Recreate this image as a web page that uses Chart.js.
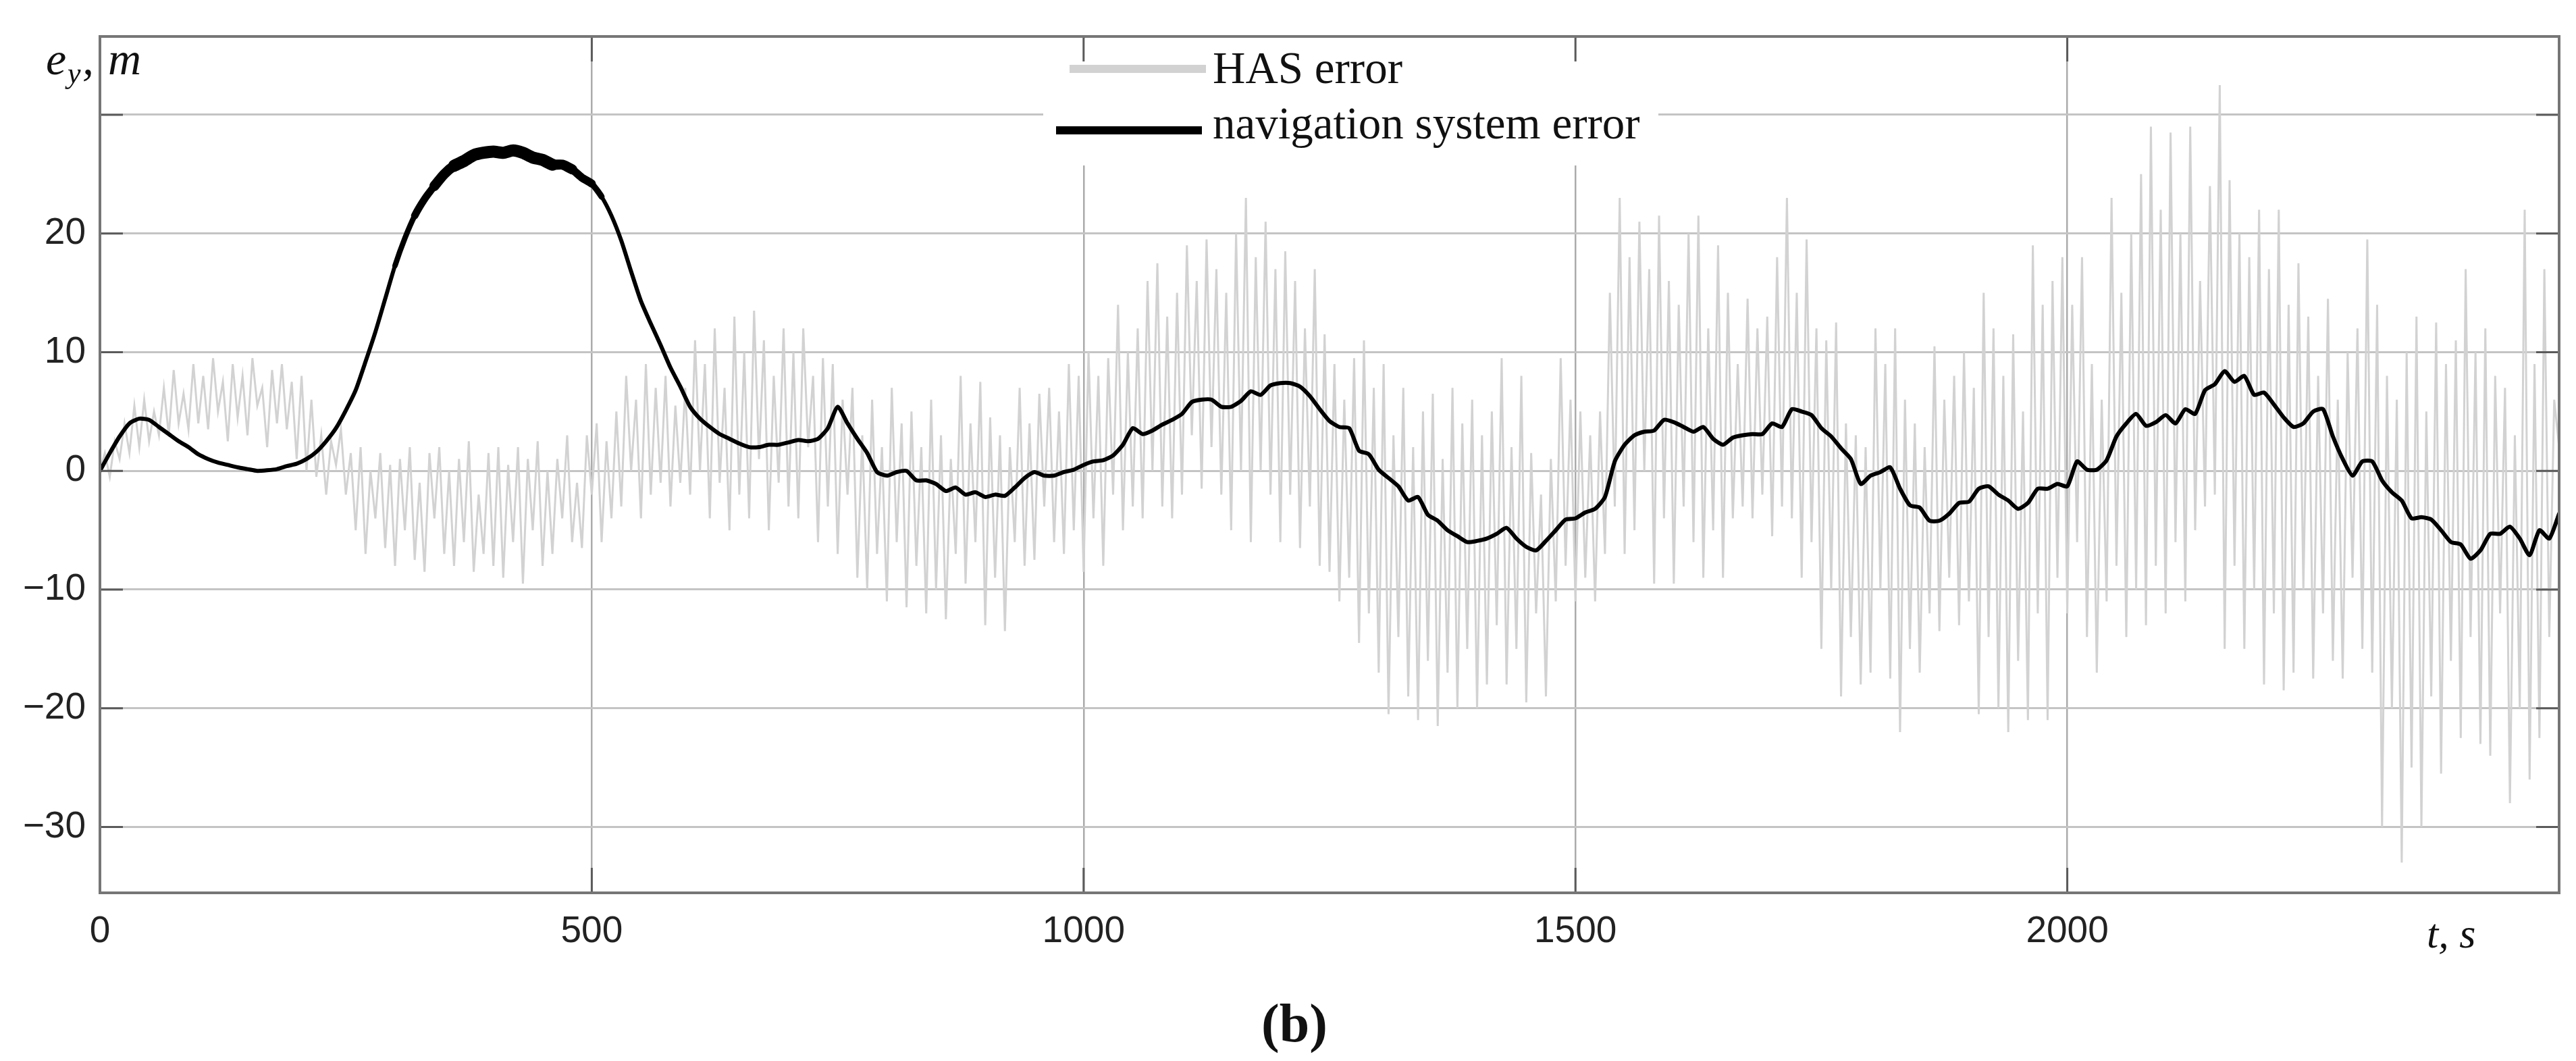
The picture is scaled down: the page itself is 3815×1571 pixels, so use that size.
<!DOCTYPE html>
<html>
<head>
<meta charset="utf-8">
<script src="https://cdn.jsdelivr.net/npm/chart.js@4/dist/chart.umd.min.js"></script>
<style>
  html, body { margin: 0; padding: 0; background: #fff; }
  canvas { display: block; }
</style>
</head>
<body>
<canvas id="myChart" width="3815" height="1571"></canvas>
<script>
// sampling of the two records, seconds
var hasStep = 5
var navStep = 10

// HAS error, m (every 5 s from t = 0)
var hasError = [
	0, 1.5, -0.5, 2.5, 1, 4, 1.5, 5.5, 2, 6, 2.5, 5, 3, 7, 3, 8.5, 4, 6.5, 3.5, 9,
	4, 8, 3.5, 9.5, 5, 7.5, 2.5, 9, 4.5, 8, 3, 9.5, 5.5, 7, 2, 8.5, 4, 9, 3.5, 7.5,
	1, 8, 0, 6, -0.5, 3, -2, 2.5, 0.5, 3.5, -2, 1.5, -5, 2, -7, 0, -4, 1.5, -6.5, 0.5,
	-8, 1, -5, 2, -7.5, -1, -8.5, 1.5, -4, 2, -7, 0, -8, 1, -6, 2.5, -8.5, -2, -7, 1.5,
	-8, 2, -9, 0.5, -6, 2, -9.5, 1, -5, 2.5, -8, 0, -7, 1, -4, 3, -6, -1, -6.5, 3,
	-2, 4, -6, 2.5, -4, 5, -3, 8, 0, 6, -4, 9, -2, 7, -1, 8, -3, 5.5, -1, 7,
	-2, 11, 0, 9, -4, 12, -1, 7, -5, 13, -2, 10, -4, 13.5, 1, 11, -5, 8, -1, 12,
	-3, 10, -4, 12, 2, 8, -6, 9.5, -3, 9, -7, 6, -2, 7, -9, 3, -10, 6, -7, 2,
	-11, 7, -6, 4, -11.5, 5, -8, 2, -12, 6, -10, 3, -12.5, 1, -7, 8, -9.5, 4, -6, 7.5,
	-13, 4.5, -9, 3, -13.5, 2, -6, 7, -8, 4, -7.5, 6.5, -3, 7, -6, 5, -7, 9, -5, 8,
	-8.5, 10, -4, 8, -8, 9.5, -2, 14, -5, 10, -3, 12, -4, 16, 0, 17.5, -3, 13, -4, 15,
	-2, 19, 3, 16, -1.5, 19.5, 2, 17, -2, 15, -5, 20, 0, 23, -6, 18, 0, 21, -2, 17,
	-6, 18.5, -2, 16, -6.5, 12, -3, 17, -8, 11.5, -8.5, 9, -11, 6, -9, 9.5, -14.5, 11, -12, 7,
	-17, 9, -20.5, 3, -14, 7, -19, 2, -21, 5, -16, 6.5, -21.5, 1, -17, 7, -20, 4, -15, 6,
	-20, 3, -18, 5, -13, 9.5, -18, 2, -15, 8, -19.5, 1.5, -12, -2, -19, 1, -11, 9.5, -8, 6,
	-11, 5, -9, 3, -11, 5, -7, 15, -3, 23, -7, 18, -5, 21, 0, 17, -9.5, 21.5, -4, 16,
	-9.5, 14, -3, 20, -6, 21.5, -9, 12, -5, 19, -9, 15, -4, 9, -3, 14.5, -4, 12, -2, 13,
	-5.5, 18, -3, 23, -4, 15, -9, 19.5, -6, 12, -15, 11, -10, 12.5, -19, 4, -14, 3, -18, 2,
	-17, 12, -10, 9, -17.5, 12, -22, 6, -15, 4, -17, 2, -12, 10.5, -13.5, 6, -9, 8, -13, 10,
	-11, 7, -20.5, 15, -14, 12, -20, 8, -22, 11.5, -16, 5, -21, 19, -12, 14, -21, 16, -9, 18,
	-12, 14, -6, 18, -14, 9, -17, 6, -11, 23, -8, 15, -14, 20, -10, 25, -13, 29, -8, 22,
	-12, 28.5, -6, 20, -11, 29, -5, 16, -3, 24, -2, 32.5, -15, 24.5, -8, 20, -15, 18, -10, 22,
	-18, 17, -12, 22, -18.5, 14, -17, 17.5, -10, 13, -17.5, 8, -12, 14.5, -16, 6, -17.5, 10, -9, 12,
	-15, 19.5, -17, 14, -30, 8, -20, 6, -33, 10, -25, 13, -30, 5, -19, 12.5, -25.5, 9, -16, 11,
	-22.5, 17, -14, 10, -23, 12, -24, 8, -12, 7, -28, 3, -20, 22, -26, 9, -22.5, 17, -14, 6,
	2
]

// navigation system error, m (every 10 s from t = 0)
var navError = [
	0, 1.5, 2.9, 4.0, 4.4, 4.3, 3.7, 3.1, 2.5, 2.0,
	1.4, 1.0, 0.7, 0.5, 0.3, 0.15, 0, 0.05, 0.15, 0.4,
	0.6, 1.0, 1.6, 2.5, 3.6, 5.1, 6.8, 9.2, 11.7, 14.5,
	17.3, 19.6, 21.5, 22.9, 24.0, 25.0, 25.7, 26.1, 26.6, 26.8,
	26.9, 26.8, 27.0, 26.8, 26.4, 26.2, 25.8, 25.8, 25.4, 24.7,
	24.2, 23.1, 21.5, 19.4, 16.8, 14.3, 12.4, 10.6, 8.7, 7.1,
	5.4, 4.4, 3.7, 3.1, 2.7, 2.3, 2.0, 2.0, 2.2, 2.2,
	2.4, 2.6, 2.5, 2.7, 3.6, 5.4, 4.0, 2.7, 1.5, -0.1,
	-0.4, -0.1, 0, -0.8, -0.8, -1.1, -1.7, -1.4, -2.0, -1.8,
	-2.2, -2.0, -2.1, -1.4, -0.6, -0.1, -0.4, -0.4, -0.1, 0.1,
	0.5, 0.8, 0.9, 1.3, 2.2, 3.6, 3.1, 3.4, 3.9, 4.3,
	4.8, 5.8, 6.0, 6.0, 5.4, 5.4, 5.9, 6.7, 6.4, 7.2,
	7.4, 7.4, 7.1, 6.3, 5.2, 4.2, 3.7, 3.6, 1.7, 1.4,
	0.1, -0.6, -1.3, -2.5, -2.2, -3.7, -4.2, -5.0, -5.5, -6.0,
	-5.9, -5.7, -5.3, -4.8, -5.7, -6.4, -6.7, -5.9, -5.0, -4.1,
	-4.0, -3.5, -3.2, -2.2, 0.8, 2.2, 3.0, 3.3, 3.4, 4.3,
	4.1, 3.7, 3.3, 3.7, 2.7, 2.2, 2.8, 3.0, 3.1, 3.1,
	4.0, 3.7, 5.2, 5.0, 4.7, 3.6, 2.9, 1.9, 1.0, -1.1,
	-0.4, -0.1, 0.3, -1.5, -2.9, -3.1, -4.2, -4.2, -3.6, -2.7,
	-2.6, -1.5, -1.3, -2.0, -2.5, -3.2, -2.7, -1.5, -1.5, -1.1,
	-1.3, 0.8, 0.1, 0.1, 0.9, 2.9, 4.0, 4.8, 3.8, 4.1,
	4.7, 4.0, 5.2, 4.8, 6.8, 7.3, 8.4, 7.5, 8.0, 6.4,
	6.6, 5.6, 4.5, 3.7, 4.0, 5.0, 5.2, 2.9, 1.0, -0.4,
	0.8, 0.8, -0.8, -1.8, -2.5, -4.0, -3.9, -4.1, -5.0, -6.0,
	-6.2, -7.4, -6.7, -5.3, -5.3, -4.7, -5.7, -7.1, -5.0, -5.7,
	-3.6
]

var xTicks = [0, 500, 1000, 1500, 2000, 2500]
var yTicks = [-30, -20, -10, 0, 10, 20, 30]
var xLabels = ['0', '500', '1000', '1500', '2000', '']
var yLabels = ['\u221230', '\u221220', '\u221210', '0', '10', '20', '']
var seriesNames = ['HAS error', 'navigation system error']

var SANS = '"Liberation Sans", Arial, sans-serif'
var SERIF = '"Liberation Serif", "Times New Roman", serif'

// the black trace is blurred by fast jitter near its top: widen it gradually there
function navWidth (t) {
	var ramp = [[300, 8], [320, 11], [340, 15], [360, 18], [460, 15], [480, 12], [500, 9], [510, 6]]
	var w = 6
	ramp.forEach(r => { if (t >= r[0]) w = r[1] })
	if (t < 300) w = 6
	return w
}

var frame = {
	id: 'frame',
	afterDatasetsDraw (chart) {
		var ctx = chart.ctx
		var a = chart.chartArea
		var x = chart.scales.x
		var y = chart.scales.y
		ctx.save()

		// legend box
		ctx.fillStyle = '#fff'
		ctx.fillRect(1545, 57, 911, 188)
		ctx.lineCap = 'butt'
		ctx.lineWidth = 12
		ctx.strokeStyle = chart.data.datasets[1].borderColor
		ctx.beginPath(); ctx.moveTo(1584, 102); ctx.lineTo(1786, 102); ctx.stroke()
		ctx.strokeStyle = chart.data.datasets[0].borderColor
		ctx.beginPath(); ctx.moveTo(1564, 193); ctx.lineTo(1780, 193); ctx.stroke()
		ctx.fillStyle = '#111'
		ctx.font = '67px ' + SERIF
		ctx.textBaseline = 'alphabetic'
		ctx.textAlign = 'left'
		ctx.fillText(seriesNames[0], 1796, 123)
		ctx.fillText(seriesNames[1], 1796, 205)

		// inner tick marks
		ctx.strokeStyle = '#5a5a5a'
		ctx.lineWidth = 3
		ctx.beginPath()
		xTicks.forEach(v => {
			var px = x.getPixelForValue(v)
			ctx.moveTo(px, a.bottom); ctx.lineTo(px, a.bottom - 37)
			ctx.moveTo(px, a.top); ctx.lineTo(px, a.top + 37)
		})
		yTicks.forEach(v => {
			var py = y.getPixelForValue(v)
			ctx.moveTo(a.left, py); ctx.lineTo(a.left + 34, py)
			ctx.moveTo(a.right, py); ctx.lineTo(a.right - 34, py)
		})
		ctx.stroke()

		// axes box
		ctx.strokeStyle = '#767676'
		ctx.lineWidth = 4
		ctx.strokeRect(a.left, a.top, a.right - a.left, a.bottom - a.top)
		ctx.restore()
	},
	afterDraw (chart) {
		var ctx = chart.ctx
		ctx.save()
		ctx.fillStyle = '#111'
		ctx.textBaseline = 'alphabetic'
		ctx.textAlign = 'left'
		// y axis name: e_y, m
		ctx.font = 'italic 68px ' + SERIF
		ctx.fillText('e', 68, 110)
		ctx.font = 'italic 44px ' + SERIF
		ctx.fillText('y', 100, 123)
		ctx.font = 'italic 68px ' + SERIF
		ctx.fillText(',', 122, 110)
		ctx.fillText('m', 160, 110)
		// x axis name
		ctx.font = 'italic 62px ' + SERIF
		ctx.fillText('t, s', 3594, 1403)
		// panel caption
		ctx.font = 'bold 80px ' + SERIF
		ctx.textAlign = 'center'
		ctx.fillText('(b)', 1917, 1542)
		ctx.restore()
	}
}

var canvas = document.getElementById('myChart')
var chart = new Chart(canvas.getContext('2d'), {
	type: 'line',
	data: {
		datasets: [{
			label: seriesNames[1],
			data: navError.map((v, i) => ({ x: i * navStep, y: v })),
			borderColor: '#000',
			borderWidth: 6,
			borderCapStyle: 'round',
			borderJoinStyle: 'round',
			pointRadius: 0,
			tension: 0.2,
			order: 0,
			segment: {
				borderWidth: c => navWidth(c.p0.parsed.x)
			}
		}, {
			label: seriesNames[0],
			data: hasError.map((v, i) => ({ x: i * hasStep, y: v })),
			borderColor: '#d2d2d2',
			borderWidth: 3,
			pointRadius: 0,
			tension: 0,
			order: 1
		}]
	},
	options: {
		responsive: false,
		devicePixelRatio: 1,
		animation: false,
		events: [],
		layout: { padding: { left: 0, right: 22, top: 23, bottom: 0 } },
		plugins: {
			legend: { display: false },
			tooltip: { enabled: false }
		},
		scales: {
			x: {
				type: 'linear',
				min: 0,
				max: 2500,
				afterBuildTicks: s => { s.ticks = xTicks.map(v => ({ value: v })) },
				afterFit: s => { s.height = 249 },
				grid: { color: '#ababab', lineWidth: 2.5, drawTicks: false },
				border: { display: false },
				ticks: {
					padding: 25,
					maxRotation: 0,
					autoSkip: false,
					color: '#222',
					font: { family: SANS, size: 55 },
					callback: v => xLabels[xTicks.indexOf(v)]
				}
			},
			y: {
				type: 'linear',
				min: -35.55,
				max: 36.6,
				afterBuildTicks: s => { s.ticks = yTicks.map(v => ({ value: v })) },
				afterFit: s => { s.width = 148 },
				grid: { color: '#c4c4c4', lineWidth: 3, drawTicks: false },
				border: { display: false },
				ticks: {
					padding: 21,
					autoSkip: false,
					color: '#222',
					font: { family: SANS, size: 55 },
					callback: v => yLabels[yTicks.indexOf(v)]
				}
			}
		}
	},
	plugins: [frame]
})
</script>
</body>
</html>
